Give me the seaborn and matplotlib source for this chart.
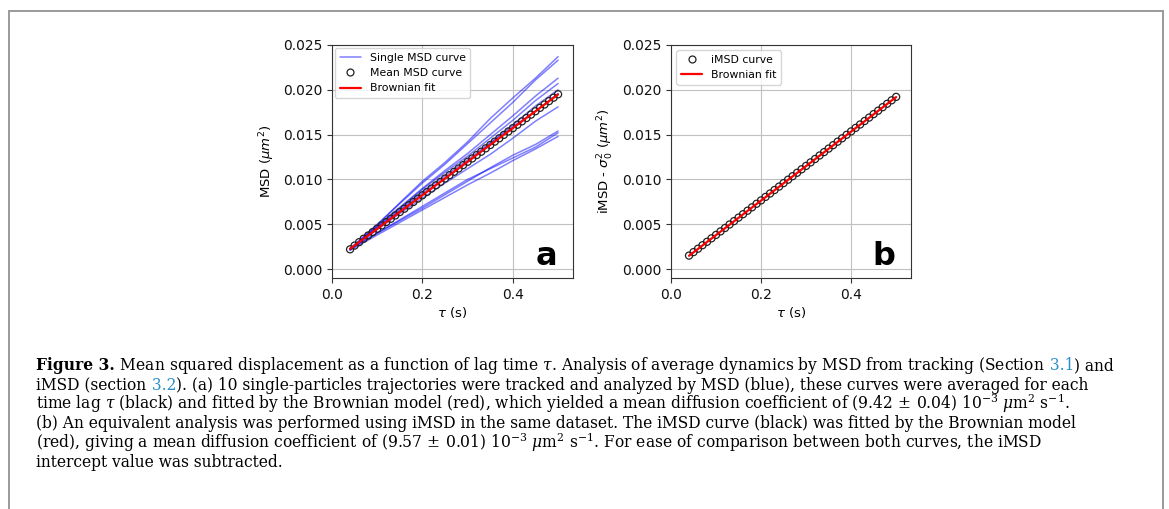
import numpy as np
import pandas as pd
import seaborn as sns
import matplotlib.pyplot as plt
from matplotlib.lines import Line2D
from matplotlib.patches import Rectangle

# lag times (s)
tau = [0.04, 0.05, 0.06, 0.07, 0.08, 0.09, 0.10, 0.11, 0.12, 0.13, 0.14, 0.15,
       0.16, 0.17, 0.18, 0.19, 0.20, 0.21, 0.22, 0.23, 0.24, 0.25, 0.26, 0.27,
       0.28, 0.29, 0.30, 0.31, 0.32, 0.33, 0.34, 0.35, 0.36, 0.37, 0.38, 0.39,
       0.40, 0.41, 0.42, 0.43, 0.44, 0.45, 0.46, 0.47, 0.48, 0.49, 0.50]

# (a) mean MSD curve (um^2)
msd_mean = [0.00220, 0.00262, 0.00300, 0.00338, 0.00374, 0.00412, 0.00450, 0.00487,
            0.00524, 0.00561, 0.00598, 0.00636, 0.00673, 0.00711, 0.00748, 0.00786,
            0.00823, 0.00860, 0.00898, 0.00935, 0.00973, 0.01010, 0.01048, 0.01085,
            0.01122, 0.01160, 0.01197, 0.01234, 0.01272, 0.01309, 0.01347, 0.01384,
            0.01422, 0.01459, 0.01497, 0.01535, 0.01572, 0.01610, 0.01648, 0.01685,
            0.01723, 0.01761, 0.01799, 0.01836, 0.01874, 0.01912, 0.01950]

# (a) single particle MSD curves, sampled coarser
tau_single = [0.04, 0.10, 0.15, 0.20, 0.25, 0.30, 0.35, 0.40, 0.45, 0.50]
msd_single = [
    [0.0022, 0.0049, 0.0074, 0.0098, 0.0119, 0.0142, 0.0168, 0.0191, 0.0213, 0.0237],
    [0.0023, 0.0050, 0.0073, 0.0096, 0.0117, 0.0140, 0.0163, 0.0186, 0.0211, 0.0233],
    [0.0022, 0.0048, 0.0069, 0.0090, 0.0110, 0.0129, 0.0150, 0.0171, 0.0193, 0.0213],
    [0.0021, 0.0047, 0.0068, 0.0089, 0.0108, 0.0126, 0.0146, 0.0166, 0.0188, 0.0207],
    [0.0022, 0.0046, 0.0066, 0.0086, 0.0104, 0.0122, 0.0141, 0.0161, 0.0182, 0.0200],
    [0.0023, 0.0045, 0.0065, 0.0084, 0.0101, 0.0119, 0.0140, 0.0159, 0.0176, 0.0196],
    [0.0022, 0.0044, 0.0062, 0.0079, 0.0096, 0.0112, 0.0128, 0.0146, 0.0165, 0.0181],
    [0.0022, 0.0040, 0.0054, 0.0068, 0.0083, 0.0098, 0.0113, 0.0127, 0.0139, 0.0154],
    [0.0023, 0.0040, 0.0055, 0.0070, 0.0085, 0.0100, 0.0112, 0.0124, 0.0136, 0.0152],
    [0.0021, 0.0038, 0.0052, 0.0066, 0.0080, 0.0094, 0.0107, 0.0121, 0.0134, 0.0148],
]

# Brownian fits (end points of straight lines)
fit_tau = [0.04, 0.50]
fit_a = [0.00225, 0.01948]

# (b) iMSD minus intercept
imsd = [0.00150, 0.00189, 0.00227, 0.00266, 0.00304, 0.00343, 0.00381, 0.00420,
        0.00458, 0.00497, 0.00535, 0.00574, 0.00612, 0.00651, 0.00689, 0.00728,
        0.00766, 0.00805, 0.00843, 0.00882, 0.00920, 0.00959, 0.00997, 0.01036,
        0.01074, 0.01113, 0.01151, 0.01190, 0.01228, 0.01267, 0.01305, 0.01344,
        0.01382, 0.01421, 0.01459, 0.01498, 0.01536, 0.01575, 0.01613, 0.01652,
        0.01690, 0.01729, 0.01767, 0.01806, 0.01844, 0.01883, 0.01921]
fit_b = [0.00148, 0.01919]

sns.set_style("ticks")
plt.rcParams['font.family'] = ['DejaVu Sans']
plt.rcParams['text.color'] = 'black'
plt.rcParams['axes.labelcolor'] = 'black'
plt.rcParams['xtick.color'] = '#333333'
plt.rcParams['ytick.color'] = '#333333'
plt.rcParams['xtick.labelcolor'] = '#111111'
plt.rcParams['ytick.labelcolor'] = '#111111'

fig = plt.figure(figsize=(11.69, 5.09), dpi=100)
W, H = 1169, 509

# frame around the figure + caption
fig.patches.append(Rectangle((9 / W, -0.05), (1163 - 9) / W, 1.05 - 11 / H,
                             transform=fig.transFigure, fill=False,
                             edgecolor="#9a9a9a", lw=1.4))

ax_a = fig.add_axes([332 / W, 1 - 278 / H, 241 / W, 233 / H])
ax_b = fig.add_axes([671 / W, 1 - 278 / H, 240 / W, 233 / H])

# long table of the single curves
rows = []
for i, curve in enumerate(msd_single):
    for t, v in zip(tau_single, curve):
        rows.append({"particle": i, "tau": t, "msd": v})
df_single = pd.DataFrame(rows)

mark_kw = dict(marker="o", s=26, facecolor="none", edgecolor="#222222",
               linewidth=0.9, zorder=3)

sns.lineplot(data=df_single, x="tau", y="msd", units="particle", estimator=None,
             color="blue", alpha=0.5, lw=1.1, ax=ax_a, legend=False)
sns.scatterplot(x=tau, y=msd_mean, ax=ax_a, legend=False, **mark_kw)
sns.lineplot(x=fit_tau, y=fit_a, color="red", lw=1.6, ax=ax_a, zorder=4)

sns.scatterplot(x=tau, y=imsd, ax=ax_b, legend=False, **mark_kw)
sns.lineplot(x=fit_tau, y=fit_b, color="red", lw=1.6, ax=ax_b, zorder=4)

for ax, letter in [(ax_a, "a"), (ax_b, "b")]:
    ax.set_xlim(0, 0.533)
    ax.set_ylim(-0.001, 0.025)
    ax.set_xticks([0.0, 0.2, 0.4])
    ax.set_yticks([0.0, 0.005, 0.010, 0.015, 0.020, 0.025])
    ax.set_yticklabels(["0.000", "0.005", "0.010", "0.015", "0.020", "0.025"])
    ax.set_xticklabels(["0.0", "0.2", "0.4"])
    ax.grid(True, color="#c0c0c0", lw=0.8)
    ax.set_axisbelow(True)
    ax.tick_params(labelsize=10, length=3.5, width=0.8)
    for sp in ax.spines.values():
        sp.set_visible(True)
        sp.set_color("#333333")
        sp.set_linewidth(0.8)
    ax.set_xlabel(r"$\tau$ (s)", fontsize=9.5, labelpad=2)
    ax.text(0.935, 0.055, letter, transform=ax.transAxes, ha="right", va="baseline",
            fontsize=23, fontweight="bold", color="black")

ax_a.set_ylabel(r"MSD ($\mu m^2$)", fontsize=9.5)
ax_b.set_ylabel(r"iMSD - $\sigma_0^2$ ($\mu m^2$)", fontsize=9.5)

h_single = Line2D([], [], color="blue", alpha=0.5, lw=1.1)
h_mean = Line2D([], [], marker="o", ls="none", mfc="none", mec="#222222", ms=5, mew=0.9)
h_fit = Line2D([], [], color="red", lw=1.6)
ax_a.legend([h_single, h_mean, h_fit], ["Single MSD curve", "Mean MSD curve", "Brownian fit"],
            loc="upper left", fontsize=7.8, borderaxespad=0.3)
ax_b.legend([h_mean, h_fit], ["iMSD curve", "Brownian fit"],
            loc="upper left", fontsize=7.8, borderaxespad=0.5)

# caption, drawn piece by piece so that links can be coloured
link = "#2a8fc9"
cap_lines = [
    [("Figure 3.", "bold", "black"),
     (" Mean squared displacement as a function of lag time $\\tau$. Analysis of average "
      "dynamics by MSD from tracking (Section", "normal", "black"),
     (" 3.1", "normal", link), (") and", "normal", "black")],
    [("iMSD (section", "normal", "black"), (" 3.2", "normal", link),
     ("). (a) 10 single-particles trajectories were tracked and analyzed by MSD (blue), "
      "these curves were averaged for each", "normal", "black")],
    [("time lag $\\tau$ (black) and fitted by the Brownian model (red), which yielded a mean "
      "diffusion coefficient of $(9.42\\,\\pm\\,0.04)\\ 10^{-3}\\ \\mu\\mathrm{m}^{2}\\ \\mathrm{s}^{-1}$.",
      "normal", "black")],
    [("(b) An equivalent analysis was performed using iMSD in the same dataset. The iMSD "
      "curve (black) was fitted by the Brownian model", "normal", "black")],
    [("(red), giving a mean diffusion coefficient of $(9.57\\,\\pm\\,0.01)\\ 10^{-3}\\ "
      "\\mu\\mathrm{m}^{2}\\ \\mathrm{s}^{-1}$. For ease of comparison between both curves, the iMSD",
      "normal", "black")],
    [("intercept value was subtracted.", "normal", "black")],
]
baselines = [370, 390, 409, 428.5, 448, 467]

renderer = fig.canvas.get_renderer()
for pieces, yb in zip(cap_lines, baselines):
    x = 36.5
    for s, weight, col in pieces:
        t = fig.text(x / W, 1 - yb / H, s, ha="left", va="baseline", fontsize=11.2,
                     family="DejaVu Serif", math_fontfamily="dejavuserif",
                     fontweight=weight, color=col)
        bb = t.get_window_extent(renderer)
        x = bb.x1

fig.savefig("out.png", dpi=100)
